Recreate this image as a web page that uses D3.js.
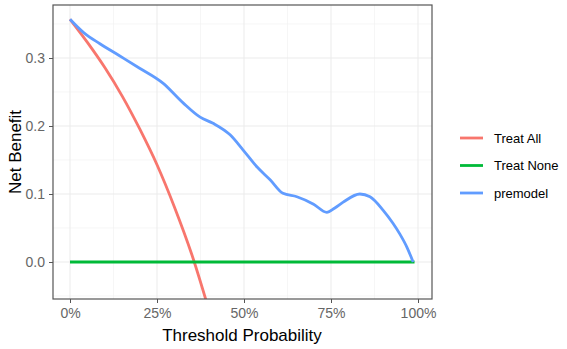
<!DOCTYPE html>
<html><head><meta charset="utf-8">
<script src="https://cdn.jsdelivr.net/npm/d3@7"></script>
<style>body{margin:0;background:#fff}svg{display:block;font-family:"Liberation Sans",Arial,sans-serif}</style>
</head><body><svg id="c" width="567" height="349"></svg>
<script>
const seriesNames = ["Treat All", "Treat None", "premodel"];
const colors = ["#F8766D", "#00BA38", "#619CFF"];
const xTicks = [0, 0.25, 0.5, 0.75, 1];
const xTickLabels = ["0%", "25%", "50%", "75%", "100%"];
const yTicks = [0, 0.1, 0.2, 0.3];
const yTickLabels = ["0.0", "0.1", "0.2", "0.3"];
const treatAllT = [0, 0.05, 0.10, 0.15, 0.20, 0.25, 0.30, 0.35, 0.40];
const treatAllNB = [0.357, 0.323, 0.286, 0.244, 0.196, 0.143, 0.081, 0.011, -0.072];
const treatNoneT = [0, 0.99];
const treatNoneNB = [0, 0];
const premodelT = [0, 0.04, 0.086, 0.14, 0.2, 0.267, 0.325, 0.374, 0.411, 0.46, 0.497, 0.537, 0.575, 0.612, 0.652, 0.70, 0.738, 0.76, 0.785, 0.833, 0.862, 0.9, 0.928, 0.948, 0.968, 0.986];
const premodelNB = [0.357, 0.337, 0.321, 0.304, 0.285, 0.263, 0.234, 0.213, 0.204, 0.187, 0.165, 0.14, 0.121, 0.101, 0.096, 0.085, 0.073, 0.079, 0.088, 0.100, 0.096, 0.076, 0.057, 0.041, 0.022, 0.0];

const svg = d3.select("#c");
const L = 53, R = 432, T = 5, B = 299;
const x = d3.scaleLinear().domain([0, 1]).range([70, 418]);
const y = d3.scaleLinear().domain([0, 0.1]).range([262, 194]);

const grid = svg.append("g");
const minorX = [0.125, 0.375, 0.625, 0.875];
const minorY = [-0.05, 0.05, 0.15, 0.25, 0.35];
minorX.forEach(v => grid.append("line").attr("x1", x(v)).attr("x2", x(v)).attr("y1", T).attr("y2", B).attr("stroke", "#f2f2f2").attr("stroke-width", 0.7));
minorY.forEach(v => { if (y(v) > T && y(v) < B) grid.append("line").attr("y1", y(v)).attr("y2", y(v)).attr("x1", L).attr("x2", R).attr("stroke", "#f2f2f2").attr("stroke-width", 0.7); });
xTicks.forEach(v => grid.append("line").attr("x1", x(v)).attr("x2", x(v)).attr("y1", T).attr("y2", B).attr("stroke", "#ebebeb").attr("stroke-width", 1));
yTicks.forEach(v => grid.append("line").attr("y1", y(v)).attr("y2", y(v)).attr("x1", L).attr("x2", R).attr("stroke", "#ebebeb").attr("stroke-width", 1));

svg.append("clipPath").attr("id", "clip").append("rect").attr("x", L).attr("y", T).attr("width", R - L).attr("height", B - T);
const line = d3.line().x(d => x(d[0])).y(d => y(d[1])).curve(d3.curveMonotoneX);
const data = [
  d3.zip(treatAllT, treatAllNB),
  d3.zip(treatNoneT, treatNoneNB),
  d3.zip(premodelT, premodelNB)
];
const lines = svg.append("g").attr("clip-path", "url(#clip)");
data.forEach((d, i) => lines.append("path").attr("d", line(d)).attr("fill", "none").attr("stroke", colors[i]).attr("stroke-width", 2.8).attr("stroke-linejoin", "round"));

svg.append("rect").attr("x", L).attr("y", T).attr("width", R - L).attr("height", B - T).attr("fill", "none").attr("stroke", "#555").attr("stroke-width", 1.2);

const xAxis = d3.axisBottom(x).tickValues(xTicks).tickFormat((d, i) => xTickLabels[i]).tickSize(4).tickPadding(5);
const gx = svg.append("g").attr("transform", `translate(0,${B})`).call(xAxis);
gx.select(".domain").remove();
gx.selectAll("line").attr("stroke", "#555");
gx.selectAll("text").attr("fill", "#666").attr("font-size", 14).attr("font-family", "Liberation Sans, Arial, sans-serif");

const yAxis = d3.axisLeft(y).tickValues(yTicks).tickFormat((d, i) => yTickLabels[i]).tickSize(4).tickPadding(4);
const gy = svg.append("g").attr("transform", `translate(${L},0)`).call(yAxis);
gy.select(".domain").remove();
gy.selectAll("line").attr("stroke", "#555");
gy.selectAll("text").attr("fill", "#666").attr("font-size", 14).attr("font-family", "Liberation Sans, Arial, sans-serif");

svg.append("text").attr("x", 242).attr("y", 341).attr("text-anchor", "middle").attr("font-size", 17).attr("fill", "#000").text("Threshold Probability");
svg.append("text").attr("transform", `translate(21,${(T + B) / 2}) rotate(-90)`).attr("text-anchor", "middle").attr("font-size", 17).attr("fill", "#000").text("Net Benefit");

const leg = svg.append("g");
seriesNames.forEach((n, i) => {
  const yy = 138 + i * 27.5;
  leg.append("line").attr("x1", 460).attr("x2", 483).attr("y1", yy).attr("y2", yy).attr("stroke", colors[i]).attr("stroke-width", 2.8);
  leg.append("text").attr("x", 494).attr("y", yy).attr("dy", "0.35em").attr("font-size", 13).attr("fill", "#000").text(n);
});
</script></body></html>
